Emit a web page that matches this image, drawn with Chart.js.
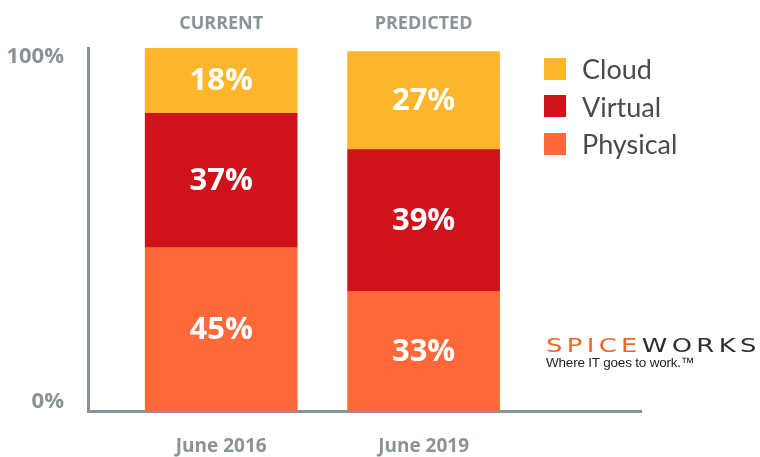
<!DOCTYPE html>
<html>
<head>
<meta charset="utf-8">
<script src="https://cdn.jsdelivr.net/npm/chart.js@4/dist/chart.umd.min.js"></script>
<style>
  html, body { margin: 0; padding: 0; background: #fff; }
  #wrap { position: relative; width: 760px; height: 457px; }
  #legend { position: absolute; left: 544px; top: 50px; font-family: Lato, "Open Sans", sans-serif; }
  .item { display: flex; align-items: center; height: 37.5px; font-size: 27px; color: #4a4a4a; }
  .sw { width: 22px; height: 22px; margin-right: 16px; }
  #logo { position: absolute; left: 546px; top: 335px; font-family: "DejaVu Sans", sans-serif; }
  #logo .brand { font-size: 19px; letter-spacing: 3.2px; line-height: 20px; transform: scaleX(1.36); transform-origin: left; white-space: nowrap; }
  #logo .tag { font-family: "Liberation Sans", Arial, sans-serif; font-size: 13.5px; color: #222; letter-spacing: -0.2px; white-space: nowrap; }
</style>
</head>
<body>
<div id="wrap">
  <canvas id="chart" width="760" height="457"></canvas>
  <div id="legend"></div>
  <div id="logo">
    <div class="brand"><span style="color:#f26522">SPICE</span><span style="color:#2e2e2e">WORKS</span></div>
    <div class="tag">Where IT goes to work.&#8482;</div>
  </div>
</div>
<script>
const periods = ['June 2016', 'June 2019'];
const phases = ['CURRENT', 'PREDICTED'];
const seriesNames = ['Physical', 'Virtual', 'Cloud'];
const physical = [45, 33];
const virtual = [37, 39];
const cloud = [18, 27];
const yTickLabels = ['0%', '100%'];
const colors = ['#ff6839', '#d0121b', '#fdb52c'];

const gray = '#8a9498';
const labelFont = '"Open Sans", Lato, sans-serif';
const values = [physical, virtual, cloud];

const segmentLabels = {
  id: 'segmentLabels',
  afterDatasetsDraw(chart) {
    const ctx = chart.ctx;
    ctx.save();
    ctx.fillStyle = '#fff';
    ctx.font = 'bold 31px ' + labelFont;
    ctx.textAlign = 'center';
    ctx.textBaseline = 'middle';
    chart.data.datasets.forEach((ds, i) => {
      chart.getDatasetMeta(i).data.forEach((bar, j) => {
        ctx.fillText(ds.data[j].y + '%', bar.x, (bar.y + bar.base) / 2 + 1);
      });
    });
    ctx.restore();
  }
};

// axis runs from x=88 to x=640, bar centres at 221 and 423
const xMin = -0.658, xMax = 2.074;

new Chart(document.getElementById('chart'), {
  type: 'bar',
  data: {
    datasets: seriesNames.map((name, i) => ({
      label: name,
      data: values[i].map((v, j) => ({ x: j, y: v })),
      backgroundColor: colors[i],
      barThickness: 152,
      borderWidth: 0
    }))
  },
  options: {
    responsive: false,
    animation: false,
    layout: { padding: { left: 0, right: 119, top: 0, bottom: 0 } },
    plugins: { legend: { display: false }, tooltip: { enabled: false } },
    scales: {
      x: {
        type: 'linear',
        stacked: true,
        offset: false,
        min: xMin,
        max: xMax,
        grid: { display: false },
        border: { display: true, color: gray, width: 3 },
        afterBuildTicks: (s) => { s.ticks = [{ value: 0 }, { value: 1 }]; },
        afterFit: (s) => { s.height = 46; },
        ticks: {
          color: gray,
          padding: 16,
          font: { family: labelFont, size: 19, weight: 'bold' },
          callback: (v) => periods[v]
        }
      },
      x2: {
        type: 'linear',
        position: 'top',
        offset: false,
        min: xMin,
        max: xMax,
        grid: { display: false },
        border: { display: false },
        afterBuildTicks: (s) => { s.ticks = [{ value: 0 }, { value: 1 }]; },
        afterFit: (s) => { s.height = 48; },
        ticks: {
          color: gray,
          padding: 5,
          font: { family: labelFont, size: 18, weight: 'bold' },
          callback: (v) => phases[v]
        }
      },
      y: {
        stacked: true,
        min: 0,
        max: 100,
        grid: { display: false },
        border: { display: true, color: gray, width: 3 },
        afterBuildTicks: (s) => { s.ticks = [{ value: 2.5 }, { value: 97.5 }]; },
        afterFit: (s) => { s.width = 88; },
        ticks: {
          color: gray,
          padding: 16,
          font: { family: labelFont, size: 22, weight: 'bold' },
          callback: (v) => v > 50 ? yTickLabels[1] : yTickLabels[0]
        }
      }
    }
  },
  plugins: [segmentLabels]
});

const legend = document.getElementById('legend');
[2, 1, 0].forEach((i) => {
  const row = document.createElement('div');
  row.className = 'item';
  row.innerHTML = '<div class="sw" style="background:' + colors[i] + '"></div>' + seriesNames[i];
  legend.appendChild(row);
});
</script>
</body>
</html>
